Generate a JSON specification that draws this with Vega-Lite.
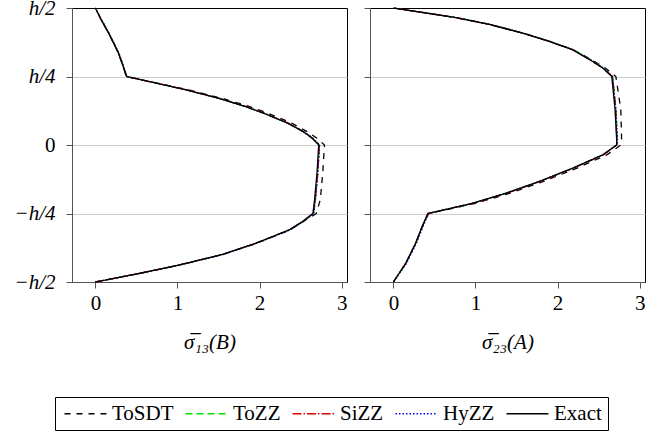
{
  "$schema": "https://vega.github.io/schema/vega-lite/v6.json",
  "padding": {"left": 13, "top": -4, "right": 5, "bottom": 0},
  "config": {
    "font": "'Times New Roman', 'Liberation Serif', serif",
    "view": {"stroke": "black", "strokeWidth": 1},
    "axis": {
      "labelFont": "'Times New Roman', 'Liberation Serif', serif", "labelFontSize": 21, "labelColor": "black",
      "titleFont": "'Times New Roman', 'Liberation Serif', serif", "titleFontSize": 21, "titleColor": "black", "titleFontWeight": "normal",
      "domainColor": "#555", "tickColor": "#555", "tickSize": 6, "labelPadding": 4, "grid": false
    },
    "concat": {"spacing": 23},
    "legend": {
      "orient": "none", "legendX": -17, "legendY": 389, "direction": "horizontal", "columns": 5,
      "strokeColor": "black", "padding": 6, "labelFont": "'Times New Roman', 'Liberation Serif', serif", "labelFontSize": 21,
      "labelColor": "black", "symbolType": "M0,0H8", "symbolSize": 110, "symbolStrokeWidth": 1.3,
      "symbolOffset": -7, "columnPadding": 8, "labelOffset": 37
    }
  },
  "data": {"values": [
    {"p": "B", "y": 0.5, "ToSDT": 0, "ToZZ": 0, "SiZZ": 0, "HyZZ": 0, "Exact": 0},
    {"p": "B", "y": 0.457, "ToSDT": 0.07, "ToZZ": 0.075, "SiZZ": 0.07, "HyZZ": 0.075, "Exact": 0.07},
    {"p": "B", "y": 0.409, "ToSDT": 0.16, "ToZZ": 0.165, "SiZZ": 0.16, "HyZZ": 0.165, "Exact": 0.16},
    {"p": "B", "y": 0.37, "ToSDT": 0.225, "ToZZ": 0.23, "SiZZ": 0.225, "HyZZ": 0.23, "Exact": 0.225},
    {"p": "B", "y": 0.336, "ToSDT": 0.28, "ToZZ": 0.285, "SiZZ": 0.28, "HyZZ": 0.285, "Exact": 0.28},
    {"p": "B", "y": 0.29, "ToSDT": 0.335, "ToZZ": 0.34, "SiZZ": 0.335, "HyZZ": 0.34, "Exact": 0.335},
    {"p": "B", "y": 0.25, "ToSDT": 0.38, "ToZZ": 0.385, "SiZZ": 0.375, "HyZZ": 0.38, "Exact": 0.38},
    {"p": "B", "y": 0.226, "ToSDT": 0.75, "ToZZ": 0.74, "SiZZ": 0.74, "HyZZ": 0.74, "Exact": 0.74},
    {"p": "B", "y": 0.2, "ToSDT": 1.15, "ToZZ": 1.12, "SiZZ": 1.13, "HyZZ": 1.12, "Exact": 1.12},
    {"p": "B", "y": 0.168, "ToSDT": 1.57, "ToZZ": 1.53, "SiZZ": 1.53, "HyZZ": 1.54, "Exact": 1.53},
    {"p": "B", "y": 0.14, "ToSDT": 1.88, "ToZZ": 1.83, "SiZZ": 1.84, "HyZZ": 1.83, "Exact": 1.83},
    {"p": "B", "y": 0.116, "ToSDT": 2.1, "ToZZ": 2.05, "SiZZ": 2.05, "HyZZ": 2.06, "Exact": 2.05},
    {"p": "B", "y": 0.08, "ToSDT": 2.39, "ToZZ": 2.34, "SiZZ": 2.35, "HyZZ": 2.34, "Exact": 2.34},
    {"p": "B", "y": 0.049, "ToSDT": 2.58, "ToZZ": 2.54, "SiZZ": 2.53, "HyZZ": 2.54, "Exact": 2.53},
    {"p": "B", "y": 0.025, "ToSDT": 2.7, "ToZZ": 2.65, "SiZZ": 2.64, "HyZZ": 2.65, "Exact": 2.64},
    {"p": "B", "y": 0, "ToSDT": 2.79, "ToZZ": 2.73, "SiZZ": 2.73, "HyZZ": 2.73, "Exact": 2.72},
    {"p": "B", "y": -0.1, "ToSDT": 2.77, "ToZZ": 2.71, "SiZZ": 2.71, "HyZZ": 2.71, "Exact": 2.7},
    {"p": "B", "y": -0.2, "ToSDT": 2.74, "ToZZ": 2.68, "SiZZ": 2.68, "HyZZ": 2.68, "Exact": 2.67},
    {"p": "B", "y": -0.25, "ToSDT": 2.69, "ToZZ": 2.66, "SiZZ": 2.65, "HyZZ": 2.66, "Exact": 2.65},
    {"p": "B", "y": -0.28, "ToSDT": 2.53, "ToZZ": 2.53, "SiZZ": 2.52, "HyZZ": 2.53, "Exact": 2.52},
    {"p": "B", "y": -0.31, "ToSDT": 2.37, "ToZZ": 2.36, "SiZZ": 2.36, "HyZZ": 2.37, "Exact": 2.36},
    {"p": "B", "y": -0.359, "ToSDT": 1.96, "ToZZ": 1.95, "SiZZ": 1.95, "HyZZ": 1.96, "Exact": 1.95},
    {"p": "B", "y": -0.4, "ToSDT": 1.55, "ToZZ": 1.54, "SiZZ": 1.54, "HyZZ": 1.55, "Exact": 1.54},
    {"p": "B", "y": -0.438, "ToSDT": 1.02, "ToZZ": 1.02, "SiZZ": 1.02, "HyZZ": 1.03, "Exact": 1.02},
    {"p": "B", "y": -0.469, "ToSDT": 0.53, "ToZZ": 0.53, "SiZZ": 0.53, "HyZZ": 0.54, "Exact": 0.53},
    {"p": "B", "y": -0.5, "ToSDT": 0, "ToZZ": 0, "SiZZ": 0, "HyZZ": 0, "Exact": 0},
    {"p": "A", "y": 0.5, "ToSDT": 0, "ToZZ": 0, "SiZZ": 0, "HyZZ": 0, "Exact": 0},
    {"p": "A", "y": 0.465, "ToSDT": 0.76, "ToZZ": 0.77, "SiZZ": 0.76, "HyZZ": 0.77, "Exact": 0.76},
    {"p": "A", "y": 0.44, "ToSDT": 1.17, "ToZZ": 1.18, "SiZZ": 1.17, "HyZZ": 1.18, "Exact": 1.17},
    {"p": "A", "y": 0.409, "ToSDT": 1.57, "ToZZ": 1.58, "SiZZ": 1.57, "HyZZ": 1.57, "Exact": 1.57},
    {"p": "A", "y": 0.378, "ToSDT": 1.9, "ToZZ": 1.91, "SiZZ": 1.9, "HyZZ": 1.9, "Exact": 1.9},
    {"p": "A", "y": 0.348, "ToSDT": 2.19, "ToZZ": 2.19, "SiZZ": 2.18, "HyZZ": 2.18, "Exact": 2.18},
    {"p": "A", "y": 0.31, "ToSDT": 2.42, "ToZZ": 2.41, "SiZZ": 2.4, "HyZZ": 2.41, "Exact": 2.4},
    {"p": "A", "y": 0.281, "ToSDT": 2.58, "ToZZ": 2.56, "SiZZ": 2.55, "HyZZ": 2.56, "Exact": 2.55},
    {"p": "A", "y": 0.25, "ToSDT": 2.71, "ToZZ": 2.67, "SiZZ": 2.67, "HyZZ": 2.67, "Exact": 2.66},
    {"p": "A", "y": 0.13, "ToSDT": 2.77, "ToZZ": 2.71, "SiZZ": 2.71, "HyZZ": 2.71, "Exact": 2.7},
    {"p": "A", "y": 0.02, "ToSDT": 2.78, "ToZZ": 2.73, "SiZZ": 2.72, "HyZZ": 2.73, "Exact": 2.72},
    {"p": "A", "y": 0, "ToSDT": 2.77, "ToZZ": 2.72, "SiZZ": 2.72, "HyZZ": 2.72, "Exact": 2.72},
    {"p": "A", "y": -0.036, "ToSDT": 2.6, "ToZZ": 2.55, "SiZZ": 2.56, "HyZZ": 2.55, "Exact": 2.55},
    {"p": "A", "y": -0.085, "ToSDT": 2.23, "ToZZ": 2.18, "SiZZ": 2.19, "HyZZ": 2.18, "Exact": 2.18},
    {"p": "A", "y": -0.134, "ToSDT": 1.82, "ToZZ": 1.77, "SiZZ": 1.78, "HyZZ": 1.77, "Exact": 1.77},
    {"p": "A", "y": -0.176, "ToSDT": 1.42, "ToZZ": 1.37, "SiZZ": 1.38, "HyZZ": 1.37, "Exact": 1.37},
    {"p": "A", "y": -0.213, "ToSDT": 1.0, "ToZZ": 0.96, "SiZZ": 0.97, "HyZZ": 0.96, "Exact": 0.96},
    {"p": "A", "y": -0.25, "ToSDT": 0.43, "ToZZ": 0.42, "SiZZ": 0.42, "HyZZ": 0.43, "Exact": 0.42},
    {"p": "A", "y": -0.298, "ToSDT": 0.35, "ToZZ": 0.35, "SiZZ": 0.35, "HyZZ": 0.36, "Exact": 0.35},
    {"p": "A", "y": -0.359, "ToSDT": 0.27, "ToZZ": 0.27, "SiZZ": 0.27, "HyZZ": 0.28, "Exact": 0.27},
    {"p": "A", "y": -0.432, "ToSDT": 0.15, "ToZZ": 0.15, "SiZZ": 0.15, "HyZZ": 0.16, "Exact": 0.15},
    {"p": "A", "y": -0.5, "ToSDT": 0, "ToZZ": 0, "SiZZ": 0, "HyZZ": 0, "Exact": 0}
  ]},
  "transform": [{"fold": ["ToSDT", "ToZZ", "SiZZ", "HyZZ", "Exact"], "as": ["method", "x"]}],
  "bounds": "flush",
  "hconcat": [
    {
      "width": 275, "height": 274,
      "transform": [{"filter": "datum.p == 'B'"}],
      "mark": {"type": "line", "strokeWidth": 1.3},
      "encoding": {
        "x": {"field": "x", "type": "quantitative", "scale": {"domain": [-0.285, 3.065], "nice": false, "zero": false},
              "axis": {"values": [0, 1, 2, 3], "title": "σ̅₁₃(B)", "titleFontStyle": "italic", "titlePadding": 18}},
        "y": {"field": "y", "type": "quantitative", "scale": {"domain": [-0.5, 0.5], "nice": false},
              "axis": {"values": [-0.5, -0.25, 0, 0.25, 0.5], "title": null, "grid": true, "gridColor": "#cccccc", "labelPadding": 11,
                       "gridOpacity": {"condition": {"test": "abs(datum.value) > 0.4", "value": 0}, "value": 1},
                       "labelFontStyle": {"condition": {"test": "datum.value == 0", "value": "normal"}, "value": "italic"},
                       "labelExpr": "datum.value > 0.4 ? 'h/2' : datum.value > 0.2 ? 'h/4' : datum.value > -0.1 ? '0' : datum.value > -0.4 ? '−h/4' : '−h/2'"}},
        "color": {"field": "method", "type": "nominal",
                  "scale": {"domain": ["ToSDT", "ToZZ", "SiZZ", "HyZZ", "Exact"], "range": ["#000000", "#00e000", "#e00000", "#0000ee", "#000000"]},
                  "legend": {"title": null}},
        "strokeDash": {"field": "method", "type": "nominal",
                  "scale": {"domain": ["ToSDT", "ToZZ", "SiZZ", "HyZZ", "Exact"], "range": [[6, 6], [7, 4], [9, 2, 1.5, 2], [1.5, 2], [1, 0]]},
                  "legend": {"title": null}},
        "order": {"field": "y", "type": "quantitative"}
      }
    },
    {
      "width": 275, "height": 274,
      "transform": [{"filter": "datum.p == 'A'"}],
      "mark": {"type": "line", "strokeWidth": 1.3},
      "encoding": {
        "x": {"field": "x", "type": "quantitative", "scale": {"domain": [-0.285, 3.065], "nice": false, "zero": false},
              "axis": {"values": [0, 1, 2, 3], "title": "σ̅₂₃(A)", "titleFontStyle": "italic", "titlePadding": 18}},
        "y": {"field": "y", "type": "quantitative", "scale": {"domain": [-0.5, 0.5], "nice": false},
              "axis": {"values": [-0.5, -0.25, 0, 0.25, 0.5], "title": null, "labels": false, "grid": true, "gridColor": "#cccccc",
                       "gridOpacity": {"condition": {"test": "abs(datum.value) > 0.4", "value": 0}, "value": 1}}},
        "color": {"field": "method", "type": "nominal",
                  "scale": {"domain": ["ToSDT", "ToZZ", "SiZZ", "HyZZ", "Exact"], "range": ["#000000", "#00e000", "#e00000", "#0000ee", "#000000"]},
                  "legend": {"title": null}},
        "strokeDash": {"field": "method", "type": "nominal",
                  "scale": {"domain": ["ToSDT", "ToZZ", "SiZZ", "HyZZ", "Exact"], "range": [[6, 6], [7, 4], [9, 2, 1.5, 2], [1.5, 2], [1, 0]]},
                  "legend": {"title": null}},
        "order": {"field": "y", "type": "quantitative"}
      }
    }
  ]
}
